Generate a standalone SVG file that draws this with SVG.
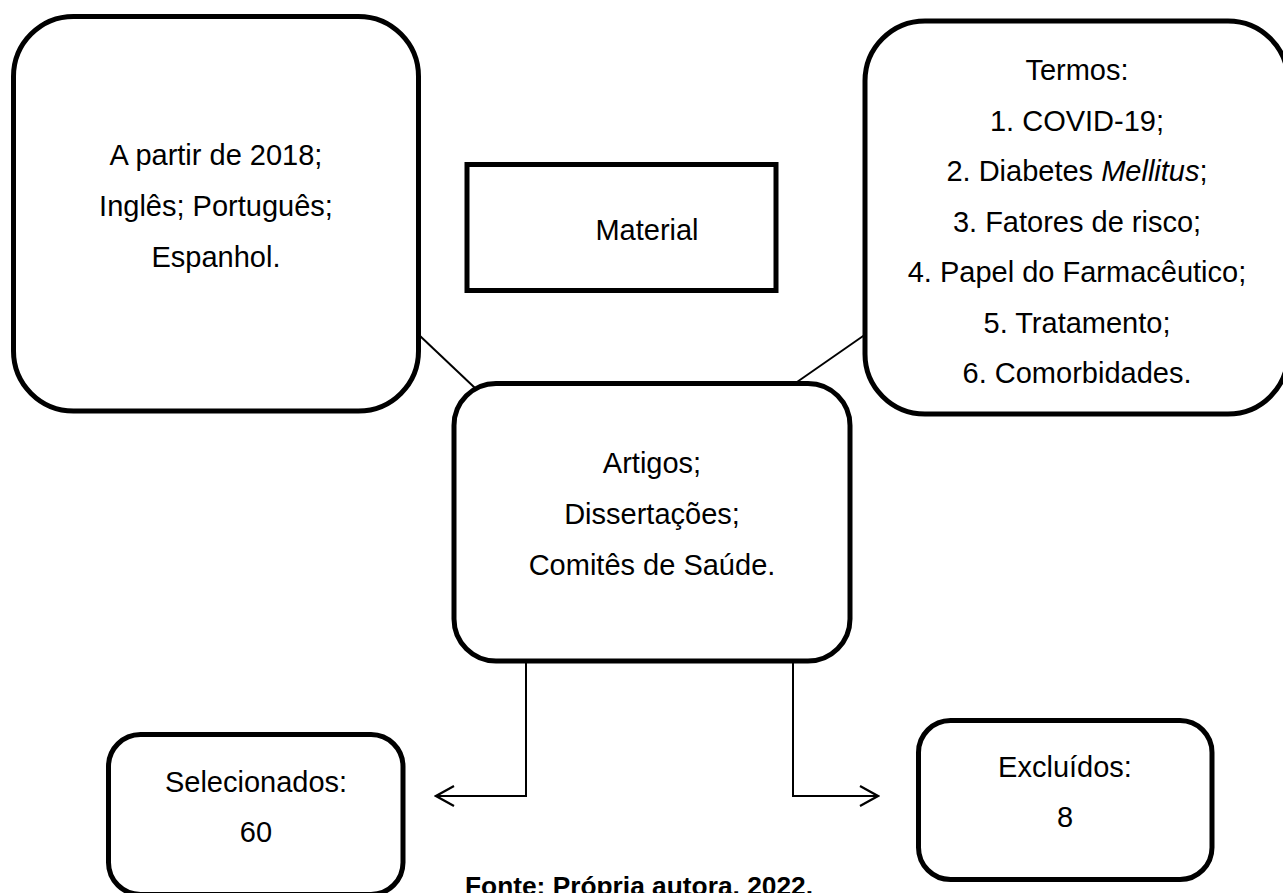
<svg xmlns="http://www.w3.org/2000/svg" width="1283" height="893" viewBox="0 0 1283 893">
<style>
.box{fill:#fff;stroke:#000;stroke-width:5}
.t{font-family:"Liberation Sans",Arial,sans-serif;font-size:29px;fill:#000;text-anchor:middle}
.conn{fill:none;stroke:#000;stroke-width:2}
.fonte{font-family:"Liberation Sans",Arial,sans-serif;font-size:26px;font-weight:bold;fill:#000}
</style>
<defs>
<marker id="chev" viewBox="-20 -12 22 24" markerWidth="22" markerHeight="24" refX="0" refY="0" orient="auto" markerUnits="userSpaceOnUse">
<path d="M-18,-10 L0,0 L-18,10" fill="none" stroke="#000" stroke-width="2.2"/>
</marker>
</defs>
<g id="connectors">
<line class="conn" x1="419" y1="335" x2="475" y2="388"/>
<line class="conn" x1="797" y1="382" x2="866" y2="334"/>
<path class="conn" d="M526,663 L526,796 L436,796" marker-end="url(#chev)"/>
<path class="conn" d="M793,663 L793,796 L878,796" marker-end="url(#chev)"/>
</g>
<g id="node-periodo">
<rect class="box" x="13.5" y="16.5" width="405" height="394.5" rx="60" ry="60"/>
<text class="t" x="216" y="165">A partir de 2018;</text>
<text class="t" x="216" y="216">Inglês; Português;</text>
<text class="t" x="216" y="267">Espanhol.</text>
</g>
<g id="node-material">
<rect class="box" x="467" y="164.5" width="309" height="126"/>
<text class="t" x="647" y="240">Material</text>
</g>
<g id="node-termos">
<rect class="box" x="865" y="21" width="423" height="393" rx="60" ry="60"/>
<text class="t" x="1077" y="80">Termos:</text>
<text class="t" x="1077" y="130.5">1. COVID-19;</text>
<text class="t" x="1077" y="181">2. Diabetes <tspan font-style="italic">Mellitus</tspan>;</text>
<text class="t" x="1077" y="231.5">3. Fatores de risco;</text>
<text class="t" x="1077" y="282">4. Papel do Farmacêutico;</text>
<text class="t" x="1077" y="332.5">5. Tratamento;</text>
<text class="t" x="1077" y="383">6. Comorbidades.</text>
</g>
<g id="node-artigos">
<rect class="box" x="454" y="383.5" width="396" height="277.5" rx="42" ry="42"/>
<text class="t" x="652" y="473">Artigos;</text>
<text class="t" x="652" y="524">Dissertações;</text>
<text class="t" x="652" y="575">Comitês de Saúde.</text>
</g>
<g id="node-selecionados">
<rect class="box" x="108.5" y="734.5" width="294.5" height="160" rx="32" ry="32"/>
<text class="t" x="256" y="792">Selecionados:</text>
<text class="t" x="256" y="842">60</text>
</g>
<g id="node-excluidos">
<rect class="box" x="918.5" y="720.5" width="293.5" height="159" rx="32" ry="32"/>
<text class="t" x="1065" y="777">Excluídos:</text>
<text class="t" x="1065" y="827">8</text>
</g>
<text class="fonte" x="465" y="895" textLength="348" lengthAdjust="spacingAndGlyphs">Fonte: Própria autora, 2022.</text>
</svg>
